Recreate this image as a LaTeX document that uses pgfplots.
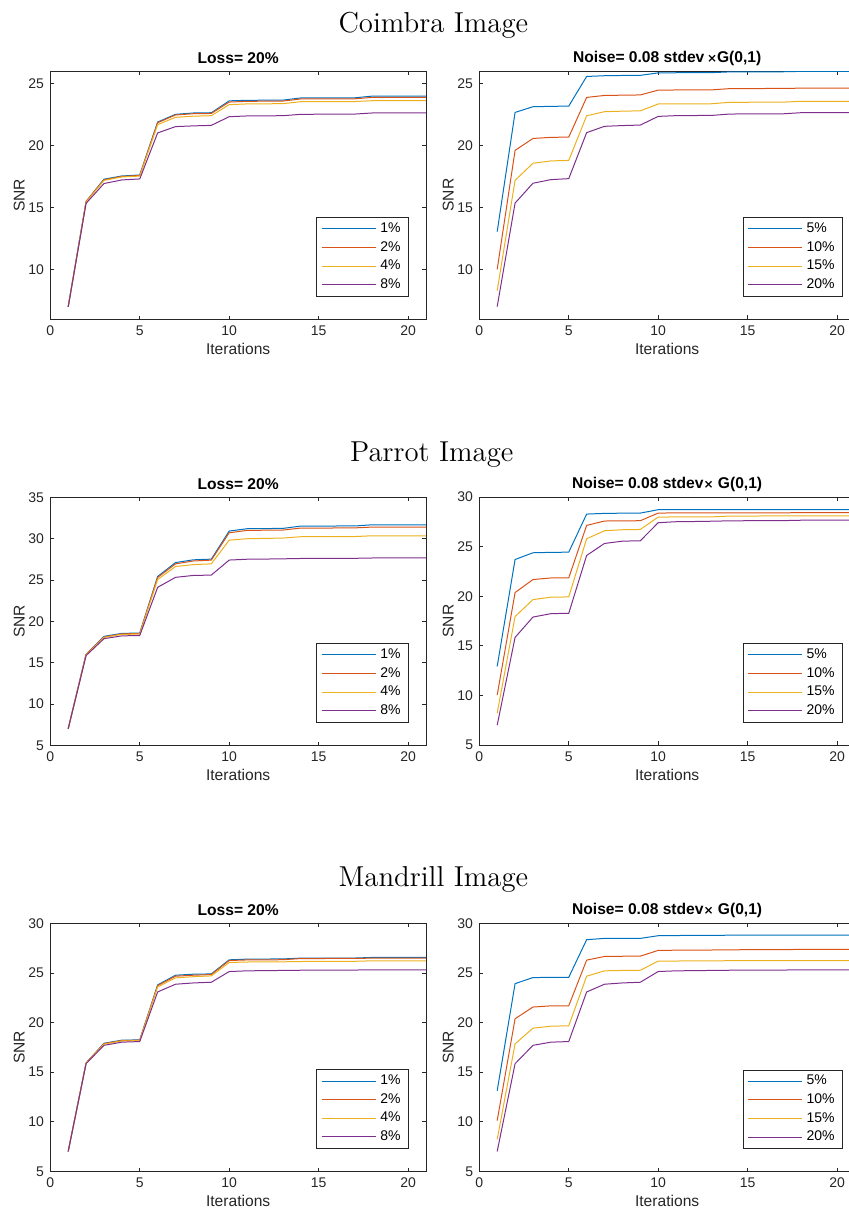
\documentclass[border=0pt]{standalone}
\usepackage{fontspec}
\newfontfamily\arial{Liberation Sans}
\usepackage{pgfplots}
\pgfplotsset{compat=1.18}
\usepackage{pgfplotstable}

\definecolor{c1}{rgb}{0,0.447,0.741}
\definecolor{c2}{rgb}{0.85,0.325,0.098}
\definecolor{c3}{rgb}{0.929,0.694,0.125}
\definecolor{c4}{rgb}{0.494,0.184,0.556}
\definecolor{axc}{rgb}{0.15,0.15,0.15}

% Coimbra, Loss = 20%
\pgfplotstableread{
x a b c d
1 7.0 7.0 7.0 7.0
2 15.5 15.5 15.45 15.35
3 17.3 17.25 17.2 16.95
4 17.56 17.52 17.48 17.24
5 17.64 17.6 17.55 17.32
6 21.91 21.85 21.7 21.03
7 22.53 22.48 22.29 21.54
8 22.64 22.58 22.38 21.6
9 22.66 22.6 22.42 21.64
10 23.62 23.52 23.31 22.34
11 23.66 23.58 23.37 22.4
12 23.67 23.59 23.38 22.41
13 23.68 23.6 23.39 22.42
14 23.85 23.77 23.55 22.53
15 23.85 23.77 23.55 22.54
16 23.85 23.77 23.55 22.54
17 23.86 23.78 23.56 22.55
18 24.0 23.9 23.63 22.64
19 24.0 23.9 23.63 22.65
20 24.0 23.9 23.64 22.65
21 24.0 23.9 23.64 22.65
}\tA
% Coimbra, Noise
\pgfplotstableread{
x a b c d
1 13.05 10.0 8.28 7.0
2 22.66 19.6 17.19 15.35
3 23.12 20.56 18.56 16.95
4 23.15 20.65 18.75 17.24
5 23.17 20.67 18.79 17.32
6 25.56 23.87 22.39 21.03
7 25.62 24.03 22.72 21.54
8 25.64 24.05 22.76 21.6
9 25.65 24.07 22.79 21.64
10 25.85 24.46 23.34 22.34
11 25.86 24.47 23.35 22.4
12 25.87 24.47 23.35 22.41
13 25.87 24.48 23.36 22.42
14 25.93 24.58 23.48 22.53
15 25.93 24.58 23.48 22.54
16 25.94 24.59 23.49 22.54
17 25.94 24.59 23.49 22.55
18 25.97 24.62 23.56 22.64
19 25.97 24.62 23.56 22.65
20 25.97 24.62 23.56 22.65
21 25.97 24.62 23.56 22.65
}\tB
% Parrot, Loss
\pgfplotstableread{
x a b c d
1 7.0 7.0 7.0 7.0
2 16.03 16.0 15.95 15.85
3 18.18 18.1 18.05 17.9
4 18.54 18.48 18.42 18.24
5 18.58 18.52 18.45 18.28
6 25.42 25.3 25.05 24.11
7 27.11 26.95 26.63 25.32
8 27.44 27.3 26.86 25.55
9 27.52 27.4 26.95 25.59
10 30.92 30.71 29.82 27.41
11 31.2 31.0 29.99 27.51
12 31.22 31.02 30.03 27.53
13 31.24 31.04 30.07 27.56
14 31.52 31.28 30.23 27.6
15 31.52 31.28 30.23 27.61
16 31.53 31.29 30.24 27.62
17 31.53 31.3 30.25 27.62
18 31.68 31.4 30.35 27.66
19 31.68 31.4 30.35 27.66
20 31.68 31.4 30.35 27.67
21 31.68 31.4 30.35 27.67
}\tC
% Parrot, Noise
\pgfplotstableread{
x a b c d
1 12.93 10.03 8.22 7.0
2 23.7 20.37 17.95 15.85
3 24.38 21.68 19.66 17.9
4 24.42 21.84 19.9 18.24
5 24.44 21.85 19.93 18.28
6 28.28 27.14 25.79 24.11
7 28.35 27.58 26.6 25.32
8 28.37 27.6 26.7 25.55
9 28.38 27.61 26.73 25.59
10 28.72 28.38 27.98 27.41
11 28.72 28.4 27.99 27.51
12 28.72 28.4 28.0 27.53
13 28.72 28.4 28.0 27.56
14 28.72 28.41 28.08 27.6
15 28.72 28.41 28.08 27.61
16 28.72 28.41 28.09 27.62
17 28.72 28.41 28.09 27.62
18 28.72 28.42 28.11 27.66
19 28.72 28.42 28.11 27.66
20 28.72 28.42 28.11 27.67
21 28.72 28.42 28.11 27.67
}\tD
% Mandrill, Loss
\pgfplotstableread{
x a b c d
1 7.0 7.0 7.0 7.0
2 15.92 15.92 15.9 15.85
3 17.91 17.87 17.82 17.7
4 18.22 18.18 18.14 18.02
5 18.25 18.22 18.18 18.08
6 23.79 23.72 23.59 23.08
7 24.77 24.67 24.5 23.86
8 24.87 24.77 24.62 23.99
9 24.9 24.83 24.7 24.06
10 26.32 26.25 26.05 25.14
11 26.39 26.31 26.1 25.21
12 26.4 26.32 26.11 25.23
13 26.41 26.33 26.12 25.25
14 26.49 26.45 26.15 25.27
15 26.49 26.45 26.16 25.28
16 26.5 26.46 26.17 25.28
17 26.5 26.46 26.17 25.29
18 26.56 26.49 26.22 25.31
19 26.56 26.49 26.22 25.31
20 26.56 26.49 26.22 25.31
21 26.56 26.49 26.22 25.31
}\tE
% Mandrill, Noise
\pgfplotstableread{
x a b c d
1 13.12 10.11 8.22 7.0
2 23.92 20.38 17.85 15.85
3 24.53 21.56 19.43 17.7
4 24.55 21.68 19.63 18.02
5 24.56 21.69 19.67 18.08
6 28.35 26.29 24.67 23.08
7 28.48 26.66 25.21 23.86
8 28.48 26.68 25.25 23.99
9 28.48 26.69 25.27 24.06
10 28.75 27.27 26.19 25.14
11 28.77 27.29 26.2 25.21
12 28.78 27.3 26.21 25.23
13 28.79 27.31 26.22 25.25
14 28.8 27.33 26.23 25.27
15 28.8 27.34 26.23 25.28
16 28.81 27.35 26.24 25.28
17 28.81 27.35 26.24 25.29
18 28.82 27.37 26.25 25.31
19 28.82 27.37 26.25 25.31
20 28.82 27.37 26.25 25.31
21 28.82 27.37 26.25 25.31
}\tF

\newcommand{\fourplots}[1]{%
  \addplot[c1] table[x=x,y=a]{#1};
  \addplot[c2] table[x=x,y=b]{#1};
  \addplot[c3] table[x=x,y=c]{#1};
  \addplot[c4] table[x=x,y=d]{#1};
}

\pgfplotsset{
  matlab/.style={
    scale only axis, width=187.85pt, height=124pt,
    xmin=0, xmax=21, xtick={0,5,10,15,20},
    tick align=inside, xtick pos=both, ytick pos=both,
    major tick length=1.9pt, minor tick num=0,
    axis line style={axc, line width=0.4pt},
    tick style={axc, line width=0.4pt},
    ticklabel style={font=\arial\fontsize{7}{8}\selectfont, text=axc},
    /pgf/number format/assume math mode=true,
    xticklabel style={yshift=0.3pt},
    yticklabel style={xshift=0.4pt},
    xlabel={Iterations}, ylabel={SNR},
    every axis x label/.style={at={(axis description cs:0.5,-0.121)}, anchor=center, font=\arial\fontsize{7.8}{9}\selectfont, text=axc},
    every axis y label/.style={at={(axis description cs:-0.0825,0.5)}, rotate=90, anchor=center, font=\arial\fontsize{7.8}{9}\selectfont, text=axc},
    every axis title/.style={at={(axis description cs:0.5,1.0524)}, anchor=center, font=\arial\bfseries\fontsize{7.8}{9}\selectfont},
    every axis plot/.append style={line width=0.5pt, mark=none},
    legend cell align=left,
    legend image code/.code={\draw[#1] (0pt,0pt) -- (27.3pt,0pt);},
    legend style={draw=axc, line width=0.4pt, fill=white, anchor=south east,
      font=\arial\fontsize{7}{8}\selectfont, text=black,
      inner xsep=2.2pt, inner ysep=1pt,
      nodes={inner xsep=1.8pt, inner ysep=1.3pt, text height=5.2pt, text depth=1.5pt},
      row sep=0pt},
  },
  lossax/.style={matlab, title={Loss= 20\%}, legend style={at={(0.955,0.092)}}},
  noiseax/.style={matlab, legend style={at={(0.968,0.091)}}},
}

\begin{document}
\begin{tikzpicture}
\useasboundingbox (0,0) rectangle (424.5pt,-606pt);
\clip (0,0) rectangle (424.5pt,-606pt);

\node[anchor=base, font=\fontsize{14.4}{17}\selectfont] at (216.7pt,-16pt) {Coimbra Image};
\node[anchor=base, font=\fontsize{14.4}{17}\selectfont] at (215.9pt,-230.85pt) {Parrot Image};
\node[anchor=base, font=\fontsize{14.4}{17}\selectfont] at (216.7pt,-443.35pt) {Mandrill Image};

% Coimbra
\begin{axis}[lossax, at={(25.15pt,-159.65pt)}, anchor=south west, ymin=6, ymax=26, ytick={10,15,20,25}]
\fourplots{\tA}
\legend{1\%,2\%,4\%,8\%}
\end{axis}
\begin{axis}[noiseax, at={(239.65pt,-159.5pt)}, anchor=south west, ymin=6, ymax=26, ytick={10,15,20,25},
  title={Noise= 0.08 stdev\,{\fontspec{DejaVu Sans}\fontsize{6}{8}\selectfont\bfseries ×}G(0,1)}]
\fourplots{\tB}
\legend{5\%,10\%,15\%,20\%}
\end{axis}

% Parrot
\begin{axis}[lossax, at={(25.15pt,-372.65pt)}, anchor=south west, ymin=5, ymax=35, ytick={5,10,15,20,25,30,35}]
\fourplots{\tC}
\legend{1\%,2\%,4\%,8\%}
\end{axis}
\begin{axis}[noiseax, at={(239.65pt,-372.5pt)}, anchor=south west, ymin=5, ymax=30, ytick={5,10,15,20,25,30},
  title={Noise= 0.08 stdev{\fontspec{DejaVu Sans}\fontsize{6}{8}\selectfont\bfseries ×} G(0,1)}]
\fourplots{\tD}
\legend{5\%,10\%,15\%,20\%}
\end{axis}

% Mandrill
\begin{axis}[lossax, at={(25.15pt,-585.65pt)}, anchor=south west, ymin=5, ymax=30, ytick={5,10,15,20,25,30}]
\fourplots{\tE}
\legend{1\%,2\%,4\%,8\%}
\end{axis}
\begin{axis}[noiseax, at={(239.65pt,-585.65pt)}, anchor=south west, ymin=5, ymax=30, ytick={5,10,15,20,25,30},
  title={Noise= 0.08 stdev{\fontspec{DejaVu Sans}\fontsize{6}{8}\selectfont\bfseries ×} G(0,1)}]
\fourplots{\tF}
\legend{5\%,10\%,15\%,20\%}
\end{axis}
\end{tikzpicture}
\end{document}
